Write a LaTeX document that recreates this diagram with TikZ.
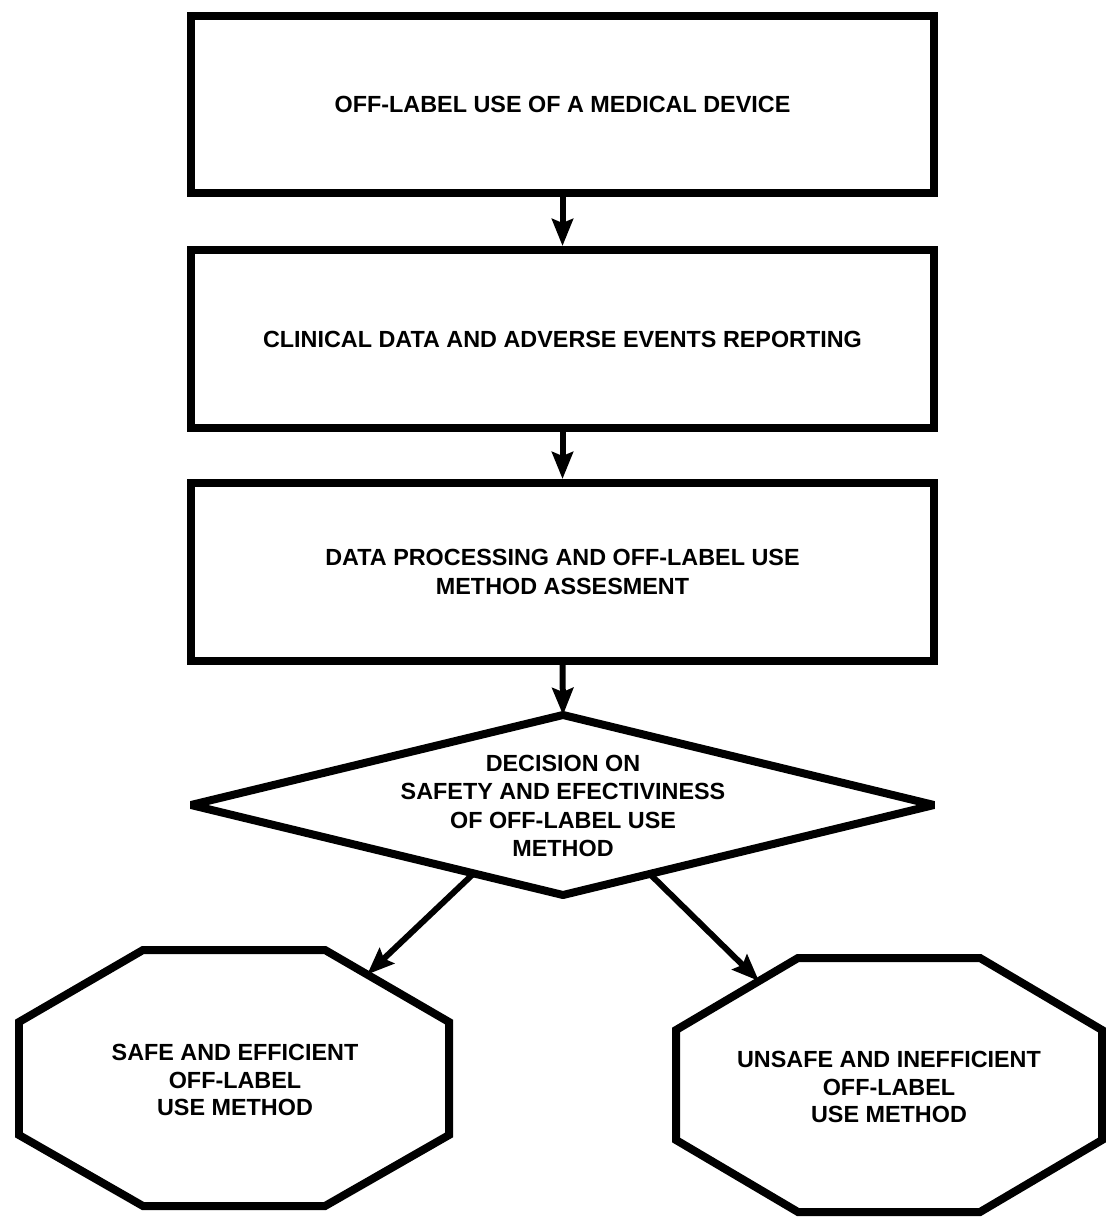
\documentclass[tikz,border=0pt]{standalone}
\usepackage{fontspec}
\setmainfont{Liberation Sans}
\usetikzlibrary{arrows.meta,calc}
\begin{document}
\begin{tikzpicture}[x=0.02cm,y=-0.02cm,
  lbl/.style={font=\fontsize{13.3}{16}\selectfont\bfseries, align=center, inner sep=0pt},
  stepbox/.style={draw, line width=0.16cm, minimum width=14.86cm, minimum height=3.56cm, lbl},
  outline/.style={draw, line width=0.16cm},
  flow/.style={line width=0.12cm, -{Stealth[length=0.54cm, width=0.42cm, inset=0.08cm]}}]
  \useasboundingbox (0,0) rectangle (1105,1219);

  % process boxes
  \node[stepbox] (b1) at (562.5,104.5) {OFF-LABEL USE OF A MEDICAL DEVICE};
  \node[stepbox] (b2) at (562.5,339) {CLINICAL DATA AND ADVERSE EVENTS REPORTING};
  \node[stepbox, font=\fontsize{13.3}{16.4}\selectfont\bfseries] (b3) at (562.5,572)
    {DATA PROCESSING AND OFF-LABEL USE\\METHOD ASSESMENT};

  % decision diamond
  \coordinate (dT) at (563,715);
  \coordinate (dR) at (934,805);
  \coordinate (dB) at (563,895);
  \coordinate (dL) at (191,805);
  \draw[outline, line join=bevel] (dT) -- (dR) -- (dB) -- (dL) -- cycle;
  \node[lbl, font=\fontsize{13.3}{16}\selectfont\bfseries] (dec) at (563,806)
    {DECISION ON\\SAFETY AND EFECTIVINESS\\OF OFF-LABEL USE\\METHOD};

  % outcome octagons
  \draw[outline, line join=miter] (143,950) coordinate (l1) -- (325,950) coordinate (l2)
    -- (449,1022) coordinate (l3) -- (449,1135) -- (325,1206) -- (143,1206)
    -- (19,1135) -- (19,1022) -- cycle;
  \node[lbl, font=\fontsize{13.3}{15.6}\selectfont\bfseries] (safe) at (235,1080)
    {SAFE AND EFFICIENT\\OFF-LABEL\\USE METHOD};

  \draw[outline, line join=miter] (798,958) coordinate (r1) -- (980,958)
    -- (1102,1030) -- (1102,1140) -- (980,1212) -- (798,1212)
    -- (676,1140) coordinate (r7) -- (676,1030) coordinate (r8) -- cycle;
  \node[lbl, font=\fontsize{13.3}{15.6}\selectfont\bfseries] (unsafe) at (889,1087)
    {UNSAFE AND INEFFICIENT\\OFF-LABEL\\USE METHOD};

  % connector end points on the slanted edges
  \coordinate (dl) at ($(dL)!0.76!(dB)$);
  \coordinate (dr) at ($(dB)!0.234!(dR)$);
  \coordinate (sl) at ($(l2)!0.34!(l3)$);
  \coordinate (ur) at ($(r8)!0.68!(r1)$);

  % connectors
  \draw[flow] (b1.south) -- (b2.north);
  \draw[flow] (b2.south) -- (b3.north);
  \draw[flow] (b3.south) -- (dT);
  \draw[flow] (dl) -- (sl);
  \draw[flow] (dr) -- (ur);
\end{tikzpicture}
\end{document}
